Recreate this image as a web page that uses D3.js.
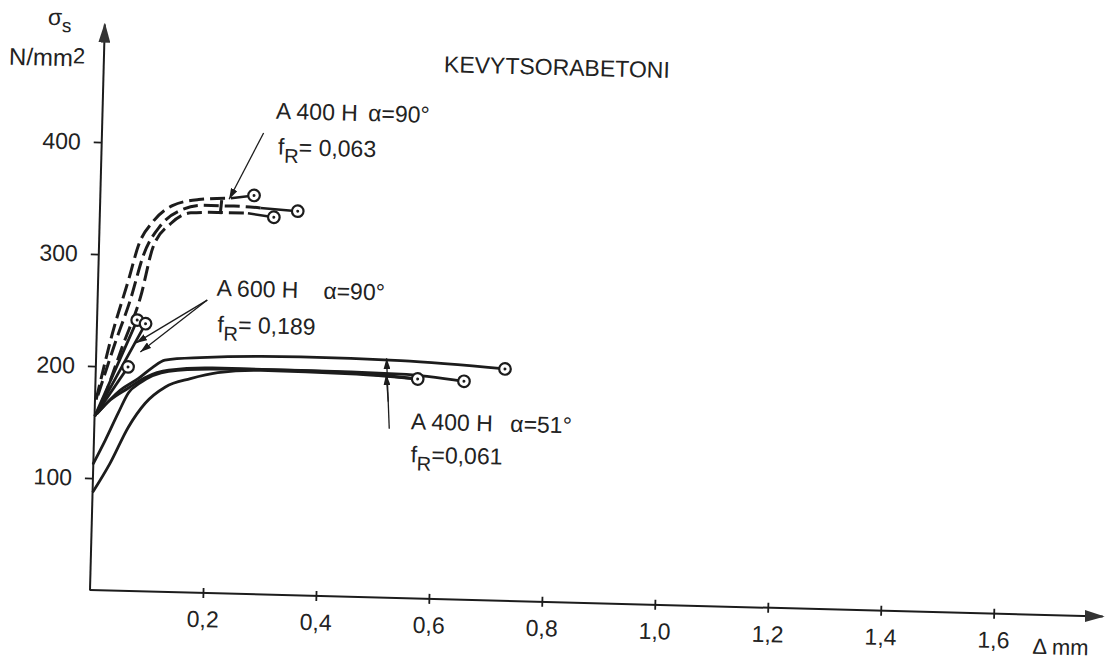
<!DOCTYPE html>
<html><head><meta charset="utf-8">
<script src="https://cdn.jsdelivr.net/npm/d3@7"></script>
<style>body{margin:0;background:#fff}</style>
</head><body>
<svg id="c" width="1107" height="665"></svg>
<script>
// ---- data ----
const xTicks = [0.2,0.4,0.6,0.8,1.0,1.2,1.4,1.6];
const xTickLabels = ["0,2","0,4","0,6","0,8","1,0","1,2","1,4","1,6"];
const yTicks = [100,200,300,400];
const yTickLabels = ["100","200","300","400"];

// A 400 H, alpha = 90 deg (dashed)
const dashedA = [[0.002,170],[0.028,230],[0.054,278],[0.070,309],[0.094,330],[0.128,345],[0.174,351],[0.231,353],[0.272,356]];
const dashedB = [[0.005,174],[0.033,221],[0.058,260],[0.079,300],[0.108,327],[0.143,341],[0.183,346],[0.237,346],[0.284,345],[0.350,343]];
const dashedC = [[0.015,170],[0.046,218],[0.076,263],[0.096,308],[0.126,329],[0.161,339],[0.208,340],[0.262,340],[0.308,337]];
// A 600 H, alpha = 90 deg
const a600A = [[0.001,156],[0.071,242]];
const a600B = [[0.001,156],[0.086,239]];
const a600C = [[0.001,156],[0.057,200]];
// A 400 H, alpha = 51 deg
const s51A = [[0.005,158],[0.044,179],[0.076,190],[0.100,200],[0.122,207],[0.184,210],[0.362,213],[0.539,212],[0.724,207]];
const s51B = [[0.005,158],[0.027,170],[0.058,181],[0.088,191],[0.129,198],[0.206,201],[0.309,201],[0.451,200],[0.570,196]];
const s51C = [[0.000,113],[0.020,134],[0.042,159],[0.059,177],[0.079,186],[0.129,197],[0.203,200],[0.363,201],[0.540,200],[0.652,195]];
const s51D = [[0.001,88],[0.030,114],[0.060,146],[0.089,168],[0.124,183],[0.168,191],[0.216,197],[0.292,200],[0.451,199],[0.570,196]];

const seriesList = [
  {pts: dashedA, dashed: true, marker: true},
  {pts: dashedB, dashed: true, marker: true},
  {pts: dashedC, dashed: true, marker: true},
  {pts: a600A, dashed: false, marker: true},
  {pts: a600B, dashed: false, marker: true},
  {pts: a600C, dashed: false, marker: true},
  {pts: s51A, dashed: false, marker: true},
  {pts: s51B, dashed: false, marker: true},
  {pts: s51C, dashed: false, marker: true},
  {pts: s51D, dashed: false, marker: false}
];

// annotation arrows [x1, y1, x2, y2] in data units
const arrows = [
  [0.286,412,0.228,352],
  [0.194,261.5,0.070,221.6],
  [0.194,261.5,0.078,213.6],
  [0.522,151,0.514,213.7],
  [0.519,175,0.514,199.5]
];
const bars = [[0.213,338.6,0.215,351]];

// ---- drawing ----
const W = 1107, H = 665;
const svg = d3.select("#c");
svg.append("rect").attr("width",W).attr("height",H).attr("fill","#fff");
const ink = "#1c1c1c";
const font = "'Liberation Sans', Arial, sans-serif";
const FS = 23;

const x = d3.scaleLinear().domain([0,1]).range([0,565]);
const y = d3.scaleLinear().domain([0,100]).range([0,-112]);

const g = svg.append("g").attr("transform","translate(90,590) rotate(1.5)");

const defs = svg.append("defs");
defs.append("marker").attr("id","ah").attr("markerUnits","userSpaceOnUse")
  .attr("markerWidth",11).attr("markerHeight",7).attr("refX",11).attr("refY",3.5)
  .attr("orient","auto").append("path").attr("d","M0,0L11,3.5L0,7Z").attr("fill",ink);
defs.append("marker").attr("id","big").attr("markerUnits","userSpaceOnUse")
  .attr("markerWidth",20).attr("markerHeight",12).attr("refX",18).attr("refY",6)
  .attr("orient","auto").append("path").attr("d","M0,0L20,6L0,12Z").attr("fill","#333");

// axes
const xAxis = d3.axisBottom(x).tickValues(xTicks).tickFormat((d,i)=>xTickLabels[i])
  .tickSizeInner(5).tickSizeOuter(0).tickPadding(13);
const gx = g.append("g").call(xAxis);
gx.select(".domain").remove();
gx.selectAll(".tick line").attr("y1",-5).attr("y2",5).attr("stroke",ink).attr("stroke-width",1.8);
gx.selectAll(".tick text").attr("font-family",font).attr("font-size",FS).attr("fill","#222");

const yAxis = d3.axisLeft(y).tickValues(yTicks).tickFormat((d,i)=>yTickLabels[i])
  .tickSizeInner(8).tickSizeOuter(0).tickPadding(13);
const gy = g.append("g").call(yAxis);
gy.select(".domain").remove();
gy.selectAll(".tick line").attr("stroke",ink).attr("stroke-width",1.8);
gy.selectAll(".tick text").attr("font-family",font).attr("font-size",FS).attr("fill","#222");

g.append("line").attr("x1",0).attr("y1",0).attr("x2",x(1.793)).attr("y2",0)
  .attr("stroke",ink).attr("stroke-width",2).attr("marker-end","url(#big)");
g.append("line").attr("x1",0).attr("y1",0.5).attr("x2",0).attr("y2",y(505))
  .attr("stroke",ink).attr("stroke-width",2).attr("marker-end","url(#big)");

// curves
const line = d3.line().x(d=>x(d[0])).y(d=>y(d[1])).curve(d3.curveMonotoneX);
seriesList.forEach(s=>{
  if (s.dashed) {
    g.append("path").attr("d",line(s.pts.slice(0,-1))).attr("fill","none")
      .attr("stroke",ink).attr("stroke-width",3).attr("stroke-dasharray","15,6");
    g.append("path").attr("d",line(s.pts.slice(-2))).attr("fill","none")
      .attr("stroke",ink).attr("stroke-width",2.5);
  } else {
    g.append("path").attr("d",line(s.pts)).attr("fill","none")
      .attr("stroke",ink).attr("stroke-width",2.8).attr("stroke-linecap","round");
  }
});
seriesList.filter(s=>s.marker).forEach(s=>{
  const p = s.pts[s.pts.length-1];
  g.append("circle").attr("cx",x(p[0])).attr("cy",y(p[1])).attr("r",5.8)
    .attr("fill","#fff").attr("stroke",ink).attr("stroke-width",2.2);
  g.append("circle").attr("cx",x(p[0])).attr("cy",y(p[1])).attr("r",1.5).attr("fill",ink);
});

// annotation arrows
arrows.forEach(a=>{
  g.append("line").attr("x1",x(a[0])).attr("y1",y(a[1])).attr("x2",x(a[2])).attr("y2",y(a[3]))
    .attr("stroke",ink).attr("stroke-width",1.3).attr("marker-end","url(#ah)");
});
bars.forEach(a=>{
  g.append("line").attr("x1",x(a[0])).attr("y1",y(a[1])).attr("x2",x(a[2])).attr("y2",y(a[3]))
    .attr("stroke",ink).attr("stroke-width",3);
});

// texts
function txt(xv, yv, str, size){
  return g.append("text").attr("x",x(xv)).attr("y",y(yv)).attr("font-family",font)
    .attr("font-size",size||FS).attr("fill","#222").text(str);
}
function fr(xv, yv, val){
  const t = g.append("text").attr("x",x(xv)).attr("y",y(yv)).attr("font-family",font)
    .attr("font-size",FS).attr("fill","#222");
  t.append("tspan").text("f");
  t.append("tspan").attr("dy",8).attr("font-size",20).text("R");
  t.append("tspan").attr("dy",-8).text(val);
}
txt(0.602,470.5,"KEVYTSORABETONI");
txt(0.307,425,"A 400 H");
txt(0.470,425,"α=90°");
fr(0.312,393,"= 0,063");
txt(0.210,265.5,"A 600 H");
txt(0.399,265.5,"α=90°");
fr(0.213,233,"= 0,189");
txt(0.560,151,"A 400 H");
txt(0.736,151,"α=51°");
fr(0.561,121.5,"=0,061");
txt(1.670,-35,"Δ mm", 22);

// y-axis label
const sg = g.append("text").attr("x",x(-0.101)).attr("y",y(503.6)).attr("font-family",font)
  .attr("font-size",FS).attr("fill","#222");
sg.append("tspan").text("σ");
sg.append("tspan").attr("dy",7).attr("font-size",19).text("s");
const nu = g.append("text").attr("x",x(-0.168)).attr("y",y(467)).attr("font-family",font)
  .attr("font-size",24).attr("fill","#222");
nu.append("tspan").text("N/mm");
nu.append("tspan").attr("dy",-3).attr("font-size",22).text("2");
</script>
</body></html>
